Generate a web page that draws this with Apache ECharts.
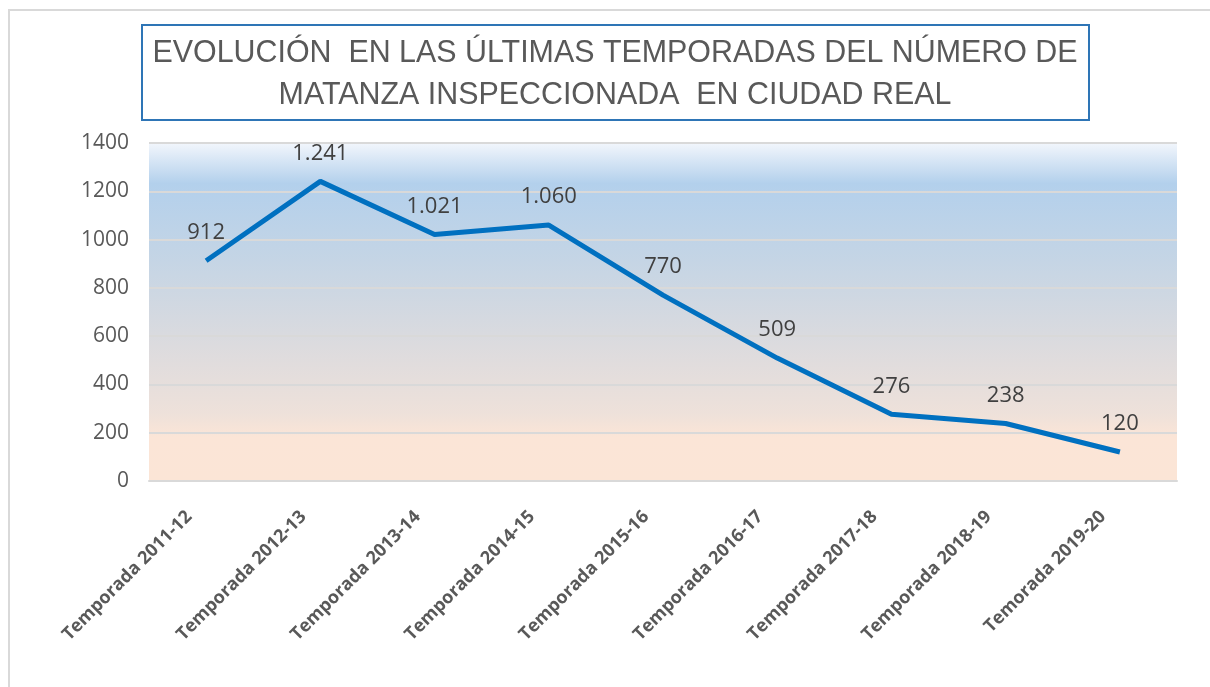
<!DOCTYPE html>
<html>
<head>
<meta charset="utf-8">
<script src="https://cdn.jsdelivr.net/npm/echarts@6/dist/echarts.min.js"></script>
<style>
  html, body { margin: 0; padding: 0; background: #fff; }
  #main { width: 1210px; height: 687px; }
</style>
</head>
<body>
<div id="main"></div>
<script>
// matanza inspeccionada por temporada
var categories = ['Temporada 2011-12', 'Temporada 2012-13', 'Temporada 2013-14', 'Temporada 2014-15',
    'Temporada 2015-16', 'Temporada 2016-17', 'Temporada 2017-18', 'Temporada 2018-19', 'Temorada 2019-20'];
var values = [912, 1241, 1021, 1060, 770, 509, 276, 238, 120];
var titleLines = ['EVOLUCIÓN  EN LAS ÚLTIMAS TEMPORADAS DEL NÚMERO DE', 'MATANZA INSPECCIONADA  EN CIUDAD REAL'];

function miles(v) {
    return String(v).replace(/\B(?=(\d{3})+(?!\d))/g, '.');
}

var myChart = echarts.init(document.getElementById('main'));
var option = {
    backgroundColor: '#fff',
    animation: false,
    graphic: [
        {
            type: 'rect',
            shape: { x: 9, y: 10, width: 1300, height: 1000 },
            style: { fill: 'none', stroke: '#D9D9D9', lineWidth: 2 },
            z: -1
        },
        {
            type: 'rect',
            shape: { x: 142, y: 25, width: 947, height: 95 },
            style: { fill: '#fff', stroke: '#2E75B6', lineWidth: 2 }
        },
        {
            type: 'text',
            x: 615,
            y: 32,
            scaleX: 0.95,
            style: {
                text: titleLines.join('\n'),
                align: 'center',
                fill: '#595959',
                font: '32px "Liberation Sans", sans-serif',
                lineHeight: 42
            }
        }
    ],
    grid: {
        left: 149,
        right: 33,
        top: 143,
        bottom: 206,
        show: true,
        borderWidth: 0,
        backgroundColor: new echarts.graphic.LinearGradient(0, 0, 0, 1, [
            { offset: 0, color: '#F2F6FC' },
            { offset: 0.12, color: '#B3D0EC' },
            { offset: 0.35, color: '#C5D5E5' },
            { offset: 0.6, color: '#DCDBDE' },
            { offset: 0.8, color: '#EEE1DA' },
            { offset: 0.87, color: '#FBE5D7' },
            { offset: 1, color: '#FBE5D6' }
        ])
    },
    xAxis: {
        type: 'category',
        data: categories,
        boundaryGap: true,
        axisTick: { show: false },
        axisLine: { lineStyle: { color: '#D9D9D9', width: 2 } },
        axisLabel: {
            rotate: 45,
            interval: 0,
            margin: 16,
            padding: [0, 24, 14, 0],
            color: '#595959',
            fontWeight: 'bold',
            fontSize: 18,
            fontFamily: 'Open Sans'
        }
    },
    yAxis: {
        type: 'value',
        min: 0,
        max: 1400,
        interval: 200,
        axisLine: { show: false },
        axisTick: { show: false },
        splitLine: { lineStyle: { color: '#D9D9D9', width: 2 } },
        axisLabel: {
            margin: 20,
            color: '#595959',
            fontSize: 21,
            fontFamily: 'Open Sans',
            formatter: function (v) { return String(v); }
        }
    },
    series: [
        {
            type: 'line',
            data: values,
            symbol: 'circle',
            symbolSize: 0,
            lineStyle: { color: '#0070C0', width: 5 },
            itemStyle: { color: '#0070C0' },
            label: {
                show: true,
                position: 'top',
                distance: 17,
                color: '#404040',
                fontSize: 22,
                fontFamily: 'Open Sans',
                formatter: function (p) { return miles(p.value); }
            }
        }
    ]
};

myChart.setOption(option);
window.onresize = myChart.resize;
</script>
</body>
</html>
